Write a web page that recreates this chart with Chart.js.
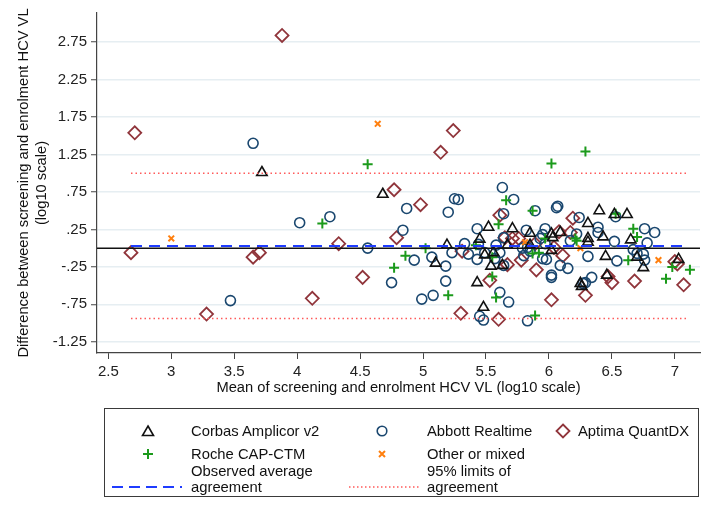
<!DOCTYPE html>
<html>
<head>
<meta charset="utf-8">
<script src="https://cdn.jsdelivr.net/npm/chart.js@4.4.0/dist/chart.umd.min.js"></script>
<style>
  html, body { margin: 0; padding: 0; background: #fff; }
  #wrap { position: relative; width: 712px; height: 505px; font-family: "Liberation Sans", Arial, sans-serif; }
  #chart { position: absolute; left: 0; top: 0; }
  #legend { position: absolute; left: 104px; top: 408px; width: 595px; height: 89px; border: 1.5px solid #3a3a3a; box-sizing: border-box; }
  .lbl { position: absolute; font-size: 14.8px; color: #111; line-height: 16px; white-space: nowrap; }
  .mk { position: absolute; }
</style>
</head>
<body>
<div id="wrap">
  <canvas id="chart" width="712" height="505"></canvas>
  <div id="legend"></div>
</div>
<script>
// axis setup
const xTicks = [2.5, 3, 3.5, 4, 4.5, 5, 5.5, 6, 6.5, 7];
const xTickLabels = ['2.5', '3', '3.5', '4', '4.5', '5', '5.5', '6', '6.5', '7'];
const yTicks = [-1.25, -0.75, -0.25, 0.25, 0.75, 1.25, 1.75, 2.25, 2.75];
const yTickLabels = ['-1.25', '-.75', '-.25', '.25', '.75', '1.25', '1.75', '2.25', '2.75'];

// reference lines
const meanDiff = 0.03;
const loaUpper = 1.0;
const loaLower = -0.94;
const refLineX = [2.68, 7.1];

// points: [mean, difference]
const corbas = [
  [3.72, 1.01], [4.68, 0.72], [5.10, -0.20], [5.19, 0.04], [5.43, -0.46], [5.52, 0.28],
  [5.45, 0.12], [5.49, -0.09], [5.54, -0.24], [5.48, -0.79], [5.56, -0.06], [5.71, 0.26],
  [5.67, 0.04], [5.63, -0.23], [5.85, 0.20], [5.85, 0.04], [6.02, 0.19], [6.09, 0.21],
  [6.03, 0.14], [6.02, -0.03], [6.25, -0.47], [6.26, -0.51], [6.31, 0.33], [6.31, 0.13],
  [6.31, 0.08], [6.40, 0.50], [6.43, 0.15], [6.45, -0.11], [6.46, -0.36], [6.52, 0.45],
  [6.62, 0.45], [6.65, 0.11], [6.70, -0.12], [6.75, -0.26], [7.03, -0.15]
];
const abbott = [
  [3.47, -0.70], [3.65, 1.40], [4.02, 0.34], [4.26, 0.42], [4.56, 0.00], [4.75, -0.46],
  [4.84, 0.24], [4.87, 0.53], [4.93, -0.16], [4.99, -0.68], [5.07, -0.12], [5.08, -0.63],
  [5.18, -0.24], [5.18, -0.44], [5.20, 0.48], [5.23, -0.06], [5.25, 0.66], [5.28, 0.65],
  [5.33, 0.06], [5.36, -0.08], [5.43, 0.26], [5.44, 0.05], [5.43, -0.15], [5.49, -0.06],
  [5.45, -0.91], [5.48, -0.96], [5.57, -0.14], [5.64, -0.23], [5.61, -0.59], [5.68, -0.72],
  [5.63, 0.81], [5.72, 0.65], [5.64, 0.46], [5.64, 0.14], [5.61, -0.06], [5.58, 0.04],
  [5.89, 0.50], [5.82, 0.24], [5.79, 0.00], [5.83, 0.01], [5.85, -0.04], [5.80, -0.10],
  [5.83, -0.97], [5.93, 0.13], [5.95, 0.18], [5.97, 0.26], [5.97, 0.06], [5.95, -0.14],
  [5.98, -0.15], [6.02, -0.36], [6.02, -0.39], [6.09, -0.23], [6.07, 0.56], [6.06, 0.54],
  [6.15, -0.27], [6.17, 0.10], [6.24, 0.41], [6.22, 0.19], [6.27, -0.47], [6.29, -0.46],
  [6.34, -0.39], [6.31, -0.11], [6.39, 0.28], [6.39, 0.21], [6.52, 0.09], [6.54, -0.17],
  [6.53, 0.42], [6.67, -0.02], [6.70, -0.07], [6.75, -0.08], [6.76, -0.16], [6.76, 0.26],
  [6.84, 0.21], [6.78, 0.07]
];
const aptima = [
  [2.68, -0.06], [2.71, 1.54], [3.28, -0.88], [3.65, -0.12], [3.70, -0.06], [3.88, 2.84],
  [4.12, -0.67], [4.33, 0.06], [4.52, -0.39], [4.77, 0.78], [4.79, 0.14], [4.98, 0.58],
  [5.14, 1.28], [5.24, 1.57], [5.30, -0.87], [5.31, -0.04], [5.53, -0.43], [5.60, -0.95],
  [5.61, 0.44], [5.65, 0.14], [5.71, 0.13], [5.67, -0.22], [5.76, 0.13], [5.78, -0.16],
  [5.89, 0.06], [5.90, -0.29], [6.02, -0.69], [6.04, 0.01], [6.08, 0.22], [6.11, -0.10],
  [6.17, 0.21], [6.19, 0.40], [6.29, -0.63], [6.47, -0.38], [6.50, -0.46], [6.68, -0.44],
  [7.00, -0.18], [7.02, -0.21], [7.07, -0.49]
];
const roche = [
  [4.20, 0.33], [4.56, 1.12], [4.77, -0.26], [4.86, -0.10], [5.02, 0.00], [5.20, -0.63],
  [5.42, 0.04], [5.55, -0.12], [5.55, -0.38], [5.58, -0.66], [5.60, 0.32], [5.66, 0.64],
  [5.87, 0.50], [5.87, -0.07], [5.92, -0.06], [5.89, -0.90], [5.97, 0.13], [6.02, 1.13],
  [6.22, 0.10], [6.21, 0.13], [6.29, 1.29], [6.53, 0.46], [6.67, 0.26], [6.70, 0.15],
  [6.63, -0.16], [6.93, -0.41], [6.98, -0.25], [7.12, -0.29]
];
const other = [
  [3.00, 0.13], [4.64, 1.66], [5.81, 0.08], [6.25, 0.00], [6.87, -0.16]
];

const xMin = 2.41, xMax = 7.2, yMin = -1.4, yMax = 3.14;

function pts(arr) {
  return arr.map(p => ({ x: p[0], y: p[1] }));
}
function hline(y, x0, x1) {
  return [{ x: x0, y: y }, { x: x1, y: y }];
}

const tickFont = { family: '"Liberation Sans", Arial, sans-serif', size: 15 };
const titleFont = { family: '"Liberation Sans", Arial, sans-serif', size: 14.7, lineHeight: 1.2 };

new Chart(document.getElementById('chart'), {
  type: 'scatter',
  data: {
    datasets: [
      {
        label: 'zero', type: 'line', data: hline(0, xMin, xMax),
        borderColor: '#111', borderWidth: 1.5, pointRadius: 0, order: 0
      },
      {
        label: 'Observed average agreement', type: 'line', data: hline(meanDiff, refLineX[0], refLineX[1]),
        borderColor: '#1f3cff', borderWidth: 2, borderDash: [11, 7], pointRadius: 0, order: 0
      },
      {
        label: '95% limits upper', type: 'line', data: hline(loaUpper, refLineX[0], refLineX[1]),
        borderColor: '#ff5a5a', borderWidth: 1.5, borderDash: [1.5, 3], pointRadius: 0, order: 0
      },
      {
        label: '95% limits lower', type: 'line', data: hline(loaLower, refLineX[0], refLineX[1]),
        borderColor: '#ff5a5a', borderWidth: 1.5, borderDash: [1.5, 3], pointRadius: 0, order: 0
      },
      {
        label: 'Corbas Amplicor v2', data: pts(corbas), pointStyle: 'triangle',
        pointRadius: 6, borderColor: '#111', backgroundColor: 'rgba(0,0,0,0)', borderWidth: 1.6, order: 1
      },
      {
        label: 'Abbott Realtime', data: pts(abbott), pointStyle: 'circle',
        pointRadius: 5, borderColor: '#1a476f', backgroundColor: 'rgba(0,0,0,0)', borderWidth: 1.6, order: 2
      },
      {
        label: 'Aptima QuantDX', data: pts(aptima), pointStyle: 'rectRot',
        pointRadius: 6.5, borderColor: '#90353b', backgroundColor: 'rgba(0,0,0,0)', borderWidth: 1.8, order: 3
      },
      {
        label: 'Roche CAP-CTM', data: pts(roche), pointStyle: 'cross',
        pointRadius: 5, borderColor: '#1b9a1b', borderWidth: 2, order: 1
      },
      {
        label: 'Other or mixed', data: pts(other), pointStyle: 'crossRot',
        pointRadius: 4, borderColor: '#ff7f0e', borderWidth: 2, order: 1
      }
    ]
  },
  options: {
    responsive: false,
    animation: false,
    events: [],
    layout: { padding: { left: 15, right: 12, top: 12, bottom: 108 } },
    plugins: { legend: { display: false }, tooltip: { enabled: false } },
    scales: {
      x: {
        type: 'linear', min: xMin, max: xMax,
        afterBuildTicks: s => { s.ticks = xTicks.map(v => ({ value: v })); },
        afterFit: s => { s.height = 44; },
        ticks: { callback: (v, i) => xTickLabels[i], font: tickFont, color: '#222', padding: 4, maxRotation: 0 },
        grid: { drawOnChartArea: false, tickLength: 6, tickColor: '#444', tickWidth: 1 },
        border: { color: '#444', width: 1.2 },
        title: { display: true, text: 'Mean of screening and enrolment HCV VL (log10 scale)', font: titleFont, color: '#111', padding: { top: 0, bottom: 0 } }
      },
      y: {
        type: 'linear', min: yMin, max: yMax,
        afterBuildTicks: s => { s.ticks = yTicks.map(v => ({ value: v })); },
        afterFit: s => { s.width = 82; },
        ticks: { callback: (v, i) => yTickLabels[i], font: tickFont, color: '#222', padding: 4 },
        grid: { color: '#e6eef2', lineWidth: 1.5, tickLength: 6, tickColor: '#444', tickWidth: 1 },
        border: { color: '#444', width: 1.2 },
        title: { display: true, text: ['Difference between screening and enrolment HCV VL', '(log10 scale)'], font: titleFont, color: '#111', padding: { top: 0, bottom: 2 } }
      }
    }
  }
});

// legend box (html, so the text stays text)
const legendItems = [
  { text: 'Corbas Amplicor v2', kind: 'tri', mx: 43, tx: 86, y: 22 },
  { text: 'Abbott Realtime', kind: 'circ', mx: 277, tx: 322, y: 22 },
  { text: 'Aptima QuantDX', kind: 'dia', mx: 458, tx: 473, y: 22 },
  { text: 'Roche CAP-CTM', kind: 'plus', mx: 43, tx: 86, y: 45 },
  { text: 'Other or mixed', kind: 'x', mx: 277, tx: 322, y: 45 },
  { text: 'Observed average<br>agreement', kind: 'dash', mx: 40, tx: 86, y: 70 },
  { text: '95% limits of<br>agreement', kind: 'dot', mx: 277, tx: 322, y: 70 }
];
function markerSvg(kind) {
  if (kind === 'tri') return '<svg width="14" height="14"><polygon points="7,2 12.5,11.5 1.5,11.5" fill="none" stroke="#111" stroke-width="1.6"/></svg>';
  if (kind === 'circ') return '<svg width="14" height="14"><circle cx="7" cy="7" r="4.8" fill="none" stroke="#1a476f" stroke-width="1.6"/></svg>';
  if (kind === 'dia') return '<svg width="16" height="16"><polygon points="8,1.5 14.5,8 8,14.5 1.5,8" fill="none" stroke="#90353b" stroke-width="1.8"/></svg>';
  if (kind === 'plus') return '<svg width="14" height="14"><path d="M7 2V12M2 7H12" stroke="#1b9a1b" stroke-width="2"/></svg>';
  if (kind === 'x') return '<svg width="14" height="14"><path d="M4 4L10 10M10 4L4 10" stroke="#ff7f0e" stroke-width="2"/></svg>';
  if (kind === 'dash') return '<svg width="70" height="6"><line x1="0" y1="3" x2="70" y2="3" stroke="#1f3cff" stroke-width="2" stroke-dasharray="11,6"/></svg>';
  return '<svg width="70" height="6"><line x1="0" y1="3" x2="70" y2="3" stroke="#ff5a5a" stroke-width="1.5" stroke-dasharray="1.5,2.5"/></svg>';
}
const legend = document.getElementById('legend');
legendItems.forEach(item => {
  const m = document.createElement('div');
  m.className = 'mk';
  const line = item.kind === 'dash' || item.kind === 'dot';
  const w = line ? 70 : (item.kind === 'dia' ? 16 : 14);
  const h = line ? 6 : w;
  m.style.left = (line ? item.mx - 33 : item.mx - w / 2) + 'px';
  m.style.top = (item.y - h / 2) + 'px';
  m.innerHTML = markerSvg(item.kind);
  legend.appendChild(m);
  const t = document.createElement('div');
  t.className = 'lbl';
  t.style.left = item.tx + 'px';
  t.style.top = (line ? item.y - 16 : item.y - 8) + 'px';
  t.innerHTML = item.text;
  legend.appendChild(t);
});
</script>
</body>
</html>
